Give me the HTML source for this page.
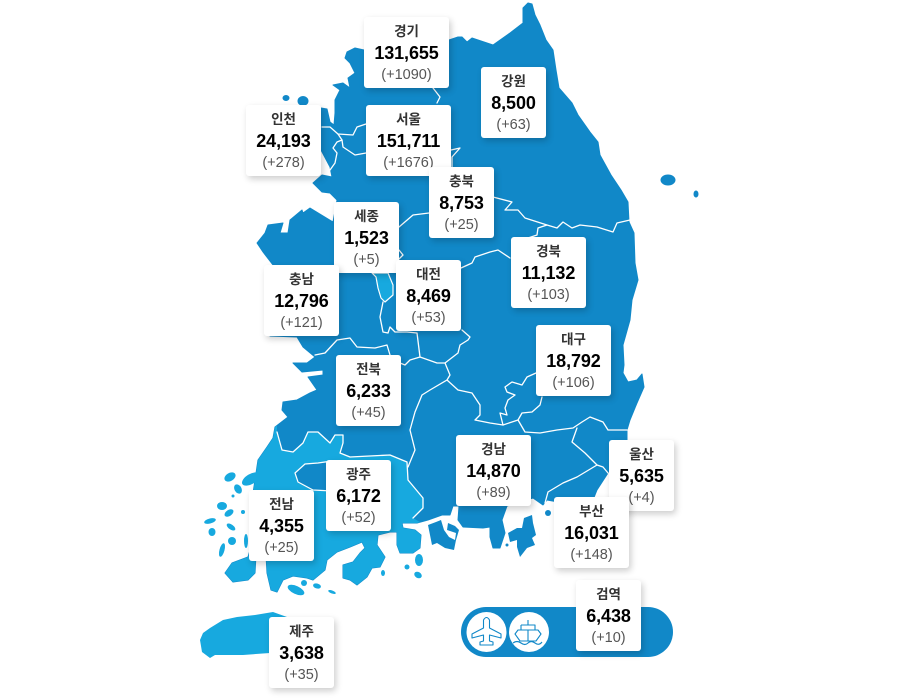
<!DOCTYPE html>
<html lang="ko">
<head>
<meta charset="utf-8">
<title>시도별 확진자 지도</title>
<style>
html,body{margin:0;padding:0;background:#fff;}
#stage{position:relative;width:917px;height:699px;overflow:hidden;background:#fff;font-family:"Liberation Sans","Noto Sans CJK KR",sans-serif;}
#map{position:absolute;left:0;top:0;}
.card{position:absolute;height:71px;background:#fff;border-radius:3px;box-shadow:2px 3px 7px rgba(0,0,0,.2);text-align:center;}
.card div{position:absolute;left:0;right:0;white-space:nowrap;}
.name{top:6px;height:18px;line-height:18px;font-size:13.5px;font-weight:700;color:#333;font-family:"Liberation Sans","Noto Sans CJK KR",sans-serif;}
.num{top:24px;height:24px;line-height:24px;font-size:18px;font-weight:700;color:#000;letter-spacing:-.1px;}
.inc{top:48px;height:20px;line-height:20px;font-size:14.5px;color:#555;}
.w65{width:65px}.w75{width:75px}.w85{width:85px}
</style>
</head>
<body>
<div id="stage">
<svg id="map" width="917" height="699" viewBox="0 0 917 699">
<defs>
<polygon id="mainland-shape" points="523,8 528,3 532,4 535,15 540,25 546,40 553,50 556,70 559,88 572,103 578,115 590,132 598,142 600,155 611,175 621,190 628,202 629,222 634,233 635,263 638,280 632,300 630,320 623,345 624,365 623,373 628,382 637,380 642,374 644,387 637,403 630,420 627,430 627,440 620,455 608,473 597,490 593,500 575,505 547,500 543,505 533,498 507,506 502,520 505,533 500,548 493,548 490,537 490,527 483,528 463,527 458,520 459,506 453,506 450,515 442,515 428,520 417,523 402,523 403,528 415,530 421,535 420,548 413,553 400,553 397,545 397,532 390,532 378,535 377,545 385,557 380,567 372,568 367,577 357,585 350,580 343,578 343,565 353,562 360,553 365,548 362,542 350,547 337,552 327,560 325,570 313,580 307,578 293,576 283,580 277,592 271,590 267,573 266,555 256,555 255,573 248,580 233,582 225,573 232,563 248,557 253,540 252,500 258,460 267,447 273,438 275,427 288,417 282,410 283,402 297,400 310,393 317,390 308,377 323,375 323,370 302,372 293,363 307,363 315,357 303,347 297,337 270,336 273,265 263,252 257,243 265,233 268,225 283,223 280,233 288,233 290,220 302,210 303,213 310,208 333,222 337,200 330,193 322,192 313,183 322,175 332,177 330,167 321,150 321,108 327,109 330,122 334,125 335,113 335,100 340,90 333,85 343,83 350,88 348,78 355,73 350,63 345,58 347,52 355,48 364,50 400,45 449,40 458,37 462,37 467,42 472,38 493,45 510,33 523,23"/>
<clipPath id="mainland-clip"><use href="#mainland-shape"/></clipPath>
</defs>
<use href="#mainland-shape" fill="#1188c8" stroke="#1188c8" stroke-width="1" stroke-linejoin="round"/>
<g clip-path="url(#mainland-clip)">
<polygon fill="#17a9df" points="277,432 282,450 293,452 303,443 308,432 318,432 330,443 335,435 343,435 343,443 340,453 350,457 390,455 407,462 408,480 423,498 423,508 413,518 425,525 430,600 180,600 180,420 277,420"/>
</g>
<polygon fill="#1188c8" stroke="#fff" stroke-width="1.2" points="295,473 305,464 318,463 332,461 332,491 313,490 298,482"/>
<polygon fill="#17a9df" stroke="#fff" stroke-width="1.2" stroke-linejoin="round" points="372,273 376,277 378,288 381,298 385,302 393,295 393,285 388,273"/>
<g fill="none" stroke="#fff" stroke-width="1.3" stroke-linejoin="round" stroke-linecap="round">
<polyline points="277,432 282,450 293,452 303,443 308,432 318,432 330,443 335,435 343,435 343,443 340,453 350,457 390,455 407,462 408,480 423,498 423,508 413,518"/>
<polyline points="315,355 325,353 337,340 350,338 357,347 375,348 387,345 390,355"/>
<polyline points="383,302 380,317 383,332 388,333 390,327 395,332 407,332 417,333 420,357 410,360 405,365 400,363"/>
<polyline points="420,357 437,363 445,363 458,353 460,345 468,340 470,337 462,330"/>
<polyline points="445,363 450,375 447,380 430,390 422,395 415,412 410,430 415,450 408,467"/>
<polyline points="447,380 458,390 472,393 480,405 480,415 475,420 490,423 503,425 518,420 525,432 540,433 557,430 573,428 582,422 590,417 603,422 608,430 627,430"/>
<polyline points="536,373 527,377 522,385 512,382 505,387 507,392 515,395 508,400 505,408 507,415 500,413 503,425"/>
<polyline points="542,397 540,405 532,412 522,413 518,420"/>
<polyline points="577,428 572,442 585,453 597,465 603,467 608,473"/>
<polyline points="597,465 577,477 563,483 548,492 545,503"/>
<polyline points="461,268 472,263 475,257 490,252 498,250 510,258"/>
<polyline points="493,197 512,202 505,210 518,210 525,218 547,225 557,228 563,222 572,228 580,225 597,227 613,232 617,223 630,220"/>
<polyline points="547,225 538,228 537,235 528,238"/>
<polyline points="399,227 413,215 429,213"/>
<polyline points="399,250 403,255 398,260"/>
<polyline points="322,127 330,127 338,134 353,135 357,127 366,124"/>
<polyline points="338,134 342,140 337,142 333,148 337,153 335,163 330,170"/>
<polyline points="342,140 343,147 355,155 366,153"/>
<polyline points="433,88 440,97 437,103"/>
<polyline points="451,150 460,148 452,157 452,167"/>
</g>
<g fill="#1188c8">
<ellipse cx="668" cy="180" rx="7.5" ry="5.5"/>
<ellipse cx="696" cy="194" rx="2.5" ry="3.5"/>
<ellipse cx="286" cy="98" rx="3.5" ry="3"/>
<ellipse cx="303" cy="101" rx="5.5" ry="5"/>
<polygon points="428,525 436,522 441,520 444,530 449,537 455,540 456,533 447,530 448,523 455,526 459,530 456,540 454,550 445,548 437,543 432,545 430,535"/>
<polygon points="508,533 517,528 522,528 524,518 532,515 533,523 536,535 532,538 535,545 527,548 520,557 517,547 517,540 510,542"/>
<circle cx="507" cy="545" r="1.5"/>
<circle cx="548" cy="513" r="3"/>
</g>
<g fill="#17a9df">
<ellipse cx="230" cy="477" rx="6" ry="4" transform="rotate(-30 230 477)"/>
<ellipse cx="251" cy="479" rx="10" ry="5" transform="rotate(-30 251 479)"/>
<ellipse cx="238" cy="489" rx="3.5" ry="5" transform="rotate(-30 238 489)"/>
<circle cx="233" cy="496" r="1.5"/>
<ellipse cx="222" cy="506" rx="5" ry="4"/>
<ellipse cx="229" cy="513" rx="5" ry="3" transform="rotate(-35 229 513)"/>
<ellipse cx="210" cy="521" rx="6" ry="2.5" transform="rotate(-15 210 521)"/>
<ellipse cx="231" cy="527" rx="5" ry="2.5" transform="rotate(35 231 527)"/>
<ellipse cx="212" cy="532" rx="3.5" ry="4"/>
<ellipse cx="232" cy="541" rx="4" ry="4"/>
<ellipse cx="222" cy="550" rx="2.5" ry="7" transform="rotate(15 222 550)"/>
<circle cx="243" cy="512" r="2"/>
<ellipse cx="246" cy="541" rx="2" ry="7"/>
<ellipse cx="296" cy="590" rx="9" ry="4" transform="rotate(25 296 590)"/>
<circle cx="304" cy="583" r="3"/>
<ellipse cx="317" cy="586" rx="4" ry="2.5" transform="rotate(15 317 586)"/>
<ellipse cx="332" cy="592" rx="4" ry="1.5" transform="rotate(20 332 592)"/>
<ellipse cx="419" cy="560" rx="4" ry="6"/>
<circle cx="407" cy="567" r="2.5"/>
<ellipse cx="418" cy="575" rx="4" ry="3" transform="rotate(30 418 575)"/>
<ellipse cx="383" cy="573" rx="2" ry="3"/>
<polygon points="200,640 203,633 210,628 223,620 237,617 255,615 273,612 287,617 300,620 300,653 270,653 243,655 215,655 210,658 202,652"/>
</g>
<g>
<rect x="461" y="607" width="212" height="50" rx="25" fill="#1188c8"/>
<circle cx="486.500" cy="632" r="20" fill="#fff"/>
<circle cx="529" cy="632" r="20" fill="#fff"/>
<path fill="none" stroke="#1188c8" stroke-width="1.1" stroke-linejoin="round" d="M483.500,620 Q486.500,615 489.500,620 V628 L501,634 V638 L489.500,635 V641 L493,642 V645 H480 V642 L483.500,641 V635 L472,638 V634 L483.500,628 Z"/>
<path fill="none" stroke="#1188c8" stroke-width="1.1" stroke-linejoin="round" d="M528,620 V625 M521,625 H535 V630 M521,625 V630 M518,630 H538 L541,634 L536,641 H520 L515,634 Z M528,630 V641 M513,643 Q517,640 521,643 T528,643 T535,643 T542,642"/>
</g>
</svg>

<div class="card w85" style="left:364px;top:17px"><div class="name">경기</div><div class="num">131,655</div><div class="inc">(+1090)</div></div>
<div class="card w85" style="left:366px;top:105px"><div class="name">서울</div><div class="num">151,711</div><div class="inc">(+1676)</div></div>
<div class="card w75" style="left:246px;top:105px"><div class="name">인천</div><div class="num">24,193</div><div class="inc">(+278)</div></div>
<div class="card w65" style="left:481px;top:67px"><div class="name">강원</div><div class="num">8,500</div><div class="inc">(+63)</div></div>
<div class="card w65" style="left:429px;top:167px"><div class="name">충북</div><div class="num">8,753</div><div class="inc">(+25)</div></div>
<div class="card w65" style="left:334px;top:202px"><div class="name">세종</div><div class="num">1,523</div><div class="inc">(+5)</div></div>
<div class="card w75" style="left:264px;top:265px"><div class="name">충남</div><div class="num">12,796</div><div class="inc">(+121)</div></div>
<div class="card w65" style="left:396px;top:260px"><div class="name">대전</div><div class="num">8,469</div><div class="inc">(+53)</div></div>
<div class="card w75" style="left:511px;top:237px"><div class="name">경북</div><div class="num">11,132</div><div class="inc">(+103)</div></div>
<div class="card w75" style="left:536px;top:325px"><div class="name">대구</div><div class="num">18,792</div><div class="inc">(+106)</div></div>
<div class="card w65" style="left:336px;top:355px"><div class="name">전북</div><div class="num">6,233</div><div class="inc">(+45)</div></div>
<div class="card w75" style="left:456px;top:435px"><div class="name">경남</div><div class="num">14,870</div><div class="inc">(+89)</div></div>
<div class="card w65" style="left:609px;top:440px"><div class="name">울산</div><div class="num">5,635</div><div class="inc">(+4)</div></div>
<div class="card w75" style="left:554px;top:497px"><div class="name">부산</div><div class="num">16,031</div><div class="inc">(+148)</div></div>
<div class="card w65" style="left:326px;top:460px"><div class="name">광주</div><div class="num">6,172</div><div class="inc">(+52)</div></div>
<div class="card w65" style="left:249px;top:490px"><div class="name">전남</div><div class="num">4,355</div><div class="inc">(+25)</div></div>
<div class="card w65" style="left:269px;top:617px"><div class="name">제주</div><div class="num">3,638</div><div class="inc">(+35)</div></div>
<div class="card w65" style="left:576px;top:580px"><div class="name">검역</div><div class="num">6,438</div><div class="inc">(+10)</div></div>
</div>
</body>
</html>
